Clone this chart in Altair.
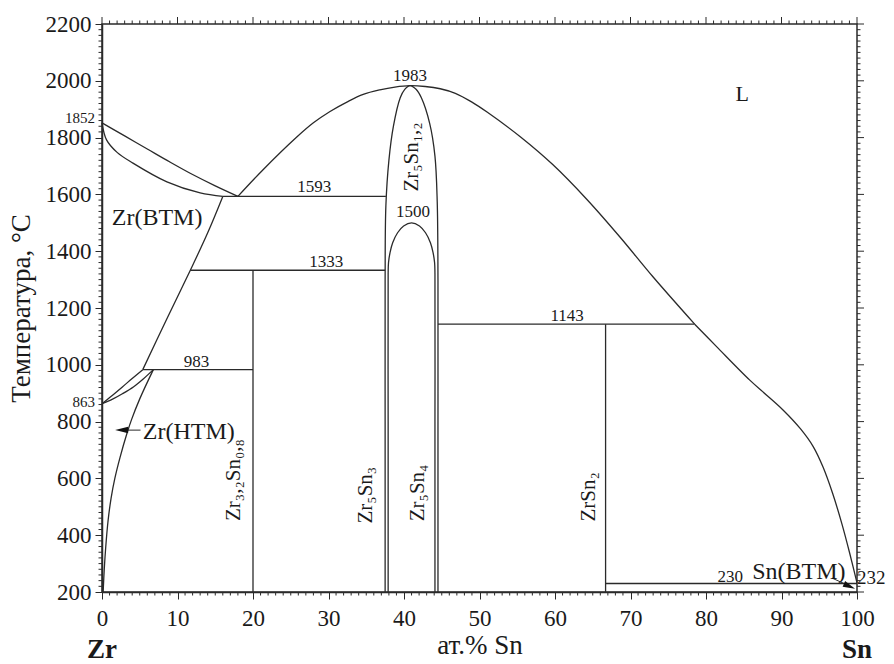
import altair as alt
import pandas as pd

W, H = 755, 568
FONT = "Liberation Serif"
INK = "#2a2a2a"

# ---- phase boundaries: composition (at.% Sn) vs temperature (°C) ----
liq_zr_x = [0, 3, 6, 9, 12, 15, 18]
liq_zr_t = [1852, 1806, 1760, 1714, 1670, 1630, 1593]

sol_zr_x = [0, 0.6, 2.0, 4.1, 8.6, 13.0, 16.0]
sol_zr_t = [1852, 1792, 1748, 1710, 1644, 1605, 1593]

beta_solvus_x = [5.4, 8.5, 11.7, 14.0, 16.0]
beta_solvus_t = [983, 1157, 1333, 1465, 1593]

lens_up_x = [0, 1.4, 2.7, 4.0, 5.4]
lens_up_t = [863, 893, 922, 952, 983]
lens_lo_x = [0, 1.4, 2.7, 4.2, 5.5, 6.8]
lens_lo_t = [863, 879, 898, 923, 951, 983]

alpha_solvus_x = [6.8, 5.0, 3.9, 3.3, 2.4, 1.7, 1.2, 0.8, 0.5, 0.3, 0.15]
alpha_solvus_t = [983, 880, 806, 758, 675, 600, 530, 450, 360, 280, 200]

liq_top_x = [18, 21.3, 25.8, 28, 30.2, 32.5, 34.6, 36.8, 38.8, 40.8, 42.8, 44.8, 46.8, 49,
             51, 55.4, 59.7, 64.2, 68.6, 73, 78.5]
liq_top_t = [1593, 1686, 1802, 1852, 1892, 1926, 1952, 1968, 1978, 1983, 1980, 1972, 1956, 1925,
             1890, 1803, 1705, 1583, 1450, 1309, 1143]

liq_sn_x = [78.5, 81.4, 85.8, 88.0, 90.2, 92.5, 94.2, 95.5, 96.8, 98.0, 99.0, 100]
liq_sn_t = [1143, 1064, 946, 894, 841, 775, 712, 640, 545, 440, 340, 232]

dome_out_x = [37.5, 37.5, 37.5, 37.6, 38.0, 38.6, 39.5, 40.1, 40.8, 41.6, 42.3, 43.4, 44.1, 44.4,
              44.5, 44.5, 44.5]
dome_out_t = [200, 800, 1300, 1560, 1720, 1840, 1940, 1970, 1983, 1970, 1940, 1850, 1735, 1575,
              1300, 800, 200]

dome_in_x = [37.9, 37.9, 37.9, 37.95, 38.15, 38.5, 39.15, 39.95, 41.0, 42.05, 42.85, 43.5, 43.85,
             44.05, 44.1, 44.1, 44.1]
dome_in_t = [200, 800, 1320, 1360, 1395, 1430, 1465, 1489, 1500, 1489, 1465, 1430, 1395,
             1360, 1320, 800, 200]

# invariant isotherms and line compounds
iso_1593_x, iso_1593_t = [16, 37.6], [1593, 1593]
iso_1333_x, iso_1333_t = [11.7, 37.5], [1333, 1333]
iso_983_x, iso_983_t = [5.4, 20], [983, 983]
iso_1143_x, iso_1143_t = [44.5, 78.5], [1143, 1143]
iso_230_x, iso_230_t = [66.7, 100], [230, 230]
zr4sn_x, zr4sn_t = [20, 20], [200, 1333]
zrsn2_x, zrsn2_t = [66.7, 66.7], [200, 1143]

# pointer arrows
zr_arrow_x, zr_arrow_t = [5.1, 3.4], [770, 770]
sn_arrow_x, sn_arrow_t = [96.7, 98.6], [249, 226]

curves = [
    ("liq_zr", liq_zr_x, liq_zr_t),
    ("sol_zr", sol_zr_x, sol_zr_t),
    ("beta_solvus", beta_solvus_x, beta_solvus_t),
    ("lens_up", lens_up_x, lens_up_t),
    ("lens_lo", lens_lo_x, lens_lo_t),
    ("alpha_solvus", alpha_solvus_x, alpha_solvus_t),
    ("liq_top", liq_top_x, liq_top_t),
    ("liq_sn", liq_sn_x, liq_sn_t),
    ("dome_out", dome_out_x, dome_out_t),
    ("dome_in", dome_in_x, dome_in_t),
    ("iso_1593", iso_1593_x, iso_1593_t),
    ("iso_1333", iso_1333_x, iso_1333_t),
    ("iso_983", iso_983_x, iso_983_t),
    ("iso_1143", iso_1143_x, iso_1143_t),
    ("iso_230", iso_230_x, iso_230_t),
    ("zr4sn", zr4sn_x, zr4sn_t),
    ("zrsn2", zrsn2_x, zrsn2_t),
]
arrows = [
    ("zr_arrow", zr_arrow_x, zr_arrow_t),
    ("sn_arrow", sn_arrow_x, sn_arrow_t),
]


def to_rows(items):
    rows = []
    for name, xs_, ts_ in items:
        for i, (x, t) in enumerate(zip(xs_, ts_)):
            rows.append({"curve": name, "i": i, "x": x, "t": t})
    return pd.DataFrame(rows)


lines_df = to_rows(curves)
arrows_df = to_rows(arrows)

# ---- labels ----
lab_text = ["1983", "1500", "1593", "1333", "983", "1143", "L", "Zr(BTM)", "230", "Sn(BTM)",
            "Zr₅Sn₁,₂", "Zr₃,₂Sn₀,₈", "Zr₅Sn₃", "Zr₅Sn₄", "ZrSn₂"]
lab_x = [40.8, 41.2, 28.1, 29.7, 12.5, 61.6, 84.8, 7.3, 83.2, 92.3,
         41.1, 17.5, 35.0, 41.85, 64.5]
lab_t = [2017, 1538, 1627, 1362, 1010, 1172, 1955, 1517, 253, 270,
         1732, 594, 541, 549, 535]
lab_size = [17, 17, 17, 17, 17, 17, 22, 24, 17, 24,
            21, 21, 21, 21, 21]
lab_angle = [0, 0, 0, 0, 0, 0, 0, 0, 0, 0,
             270, 270, 270, 270, 270]

left_text = ["Zr(HTM)", "232"]
left_x = [5.4, 100]
left_t = [763, 249]
left_dx = [0, 5]
left_size = [24, 19]

right_text = ["1852", "863"]
right_x = [0, 0]
right_t = [1868, 868]

labels_df = pd.DataFrame({"text": lab_text, "x": lab_x, "t": lab_t,
                          "size": lab_size, "angle": lab_angle})
left_df = pd.DataFrame({"text": left_text, "x": left_x, "t": left_t,
                        "dx": left_dx, "size": left_size})
right_df = pd.DataFrame({"text": right_text, "x": right_x, "t": right_t})

# tick positions
x_major = list(range(0, 101, 10))
x_minor = [v for v in range(0, 101) if v % 10]
t_major = list(range(200, 2201, 200))
t_minor = [v for v in range(200, 2201, 20) if v % 200]

xs = alt.Scale(domain=[0, 100], nice=False, zero=False)
ys = alt.Scale(domain=[200, 2200], nice=False, zero=False)

x_axis = alt.Axis(values=x_major, title="ат.% Sn", grid=False, tickSize=7,
                  labelFont=FONT, labelFontSize=23, labelPadding=8,
                  titleFont=FONT, titleFontSize=27, titleFontWeight="normal",
                  titlePadding=2, labelFlush=False, domainWidth=1.5)
y_axis = alt.Axis(values=t_major, title="Температура, °С", grid=False, tickSize=7,
                  labelFont=FONT, labelFontSize=23, labelPadding=4,
                  titleFont=FONT, titleFontSize=27, titleFontWeight="normal",
                  titlePadding=10, domainWidth=1.5, format="d")


def X(field="x"):
    return alt.X(f"{field}:Q", scale=xs, axis=x_axis)


def Y(field="t"):
    return alt.Y(f"{field}:Q", scale=ys, axis=y_axis)


lines = alt.Chart(lines_df).mark_line(
    interpolate="catmull-rom", color=INK, strokeWidth=1.3
).encode(x=X(), y=Y(), detail="curve:N", order="i:Q")

arrow_lines = alt.Chart(arrows_df).mark_line(color=INK, strokeWidth=1.0).encode(
    x=X(), y=Y(), detail="curve:N", order="i:Q")

zr_head = alt.Chart(pd.DataFrame({"x": [2.6], "t": [770]})).mark_point(
    shape="M-1,0L1,-0.5L1,0.5Z", filled=True, size=169, color="#111", opacity=1
).encode(x=X(), y=Y())

sn_head = alt.Chart(pd.DataFrame({"x": [99.0], "t": [220]})).mark_point(
    shape="M1,0L-1,-0.5L-1,0.5Z", filled=True, size=150, angle=24, color="#111", opacity=1
).encode(x=X(), y=Y())

labels = alt.Chart(labels_df).mark_text(
    font=FONT, color="#1a1a1a", align="center", baseline="middle"
).encode(
    x=X(), y=Y(),
    text="text:N",
    size=alt.Size("size:Q", scale=None, legend=None),
    angle=alt.Angle("angle:Q", scale=None),
)

left_labels = alt.Chart(left_df).mark_text(
    font=FONT, color="#1a1a1a", align="left", baseline="middle"
).encode(
    x=X(), y=Y(),
    text="text:N",
    size=alt.Size("size:Q", scale=None, legend=None),
    xOffset=alt.XOffset("dx:Q", scale=None),
)

right_labels = alt.Chart(right_df).mark_text(
    font=FONT, color="#1a1a1a", align="right", baseline="middle", fontSize=15, dx=-7
).encode(x=X(), y=Y(), text="text:N")

ends_df = pd.DataFrame({"text": ["Zr", "Sn"], "x": [0, 100], "dx": [0, 8]})
ends = alt.Chart(ends_df).mark_text(
    font=FONT, fontSize=27, fontWeight="bold", color="#1a1a1a", align="center", baseline="middle"
).encode(
    x=X(),
    y=alt.value(H + 58),
    text="text:N",
    xOffset=alt.XOffset("dx:Q", scale=None),
)

# minor ticks and the ticks on the top and right frame edges
xmin_df = pd.DataFrame({"v": x_minor})
xmaj_df = pd.DataFrame({"v": x_major})
tmin_df = pd.DataFrame({"v": t_minor})
tmaj_df = pd.DataFrame({"v": t_major})


def xticks(df, y0, y1, w=1):
    return alt.Chart(df).mark_rule(color=INK, strokeWidth=w).encode(
        x=X("v"), y=alt.value(y0), y2=alt.value(y1))


def yticks(df, x0, x1, w=1):
    return alt.Chart(df).mark_rule(color=INK, strokeWidth=w).encode(
        y=Y("v"), x=alt.value(x0), x2=alt.value(x1))


ticks = [
    xticks(xmin_df, H, H + 3.5),
    xticks(xmin_df, 0, -3.5),
    xticks(xmaj_df, 0, -7),
    yticks(tmin_df, 0, -3.5),
    yticks(tmin_df, W, W + 3.5),
    yticks(tmaj_df, W, W + 7),
]

chart = alt.layer(
    lines, arrow_lines, zr_head, sn_head, labels, left_labels, right_labels, ends, *ticks
).properties(
    width=W, height=H,
    padding={"left": 102, "top": 24, "right": 37, "bottom": 72},
    autosize=alt.AutoSizeParams(type="none"),
    background="white",
).configure_view(
    stroke=INK, strokeWidth=1.5
).configure_axis(
    domainColor=INK, tickColor=INK, labelColor="#1a1a1a", titleColor="#1a1a1a"
)

chart.save("out.html", embed_options={"renderer": "svg", "actions": False})
